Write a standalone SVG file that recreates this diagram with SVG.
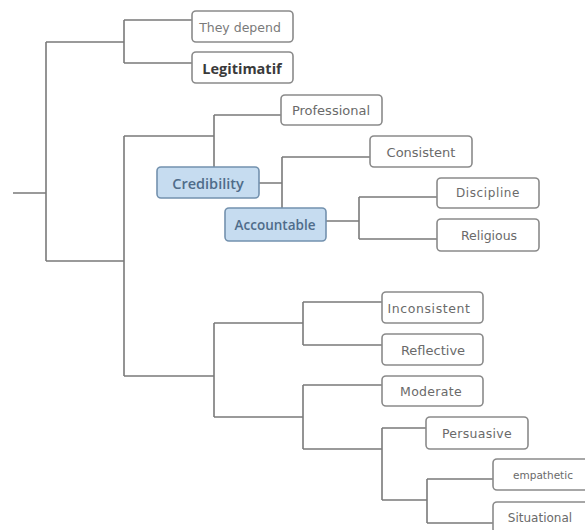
<svg xmlns="http://www.w3.org/2000/svg" width="585" height="530" viewBox="0 0 585 530">
  <style>
    .link { fill: none; stroke: #7a7a7a; stroke-width: 1.6; }
    .box { fill: #ffffff; stroke: #8a8a8a; stroke-width: 1.6; }
    .hl { fill: #c6dcf0; stroke: #7391ae; stroke-width: 1.6; }
    .t { font-family: "DejaVu Sans", "Open Sans", sans-serif; font-size: 12px; fill: #6a6a6a; text-anchor: middle; dominant-baseline: central; }
    .tb { font-family: "Open Sans", "DejaVu Sans", sans-serif; font-size: 14.5px; font-weight: bold; fill: #3a3a3a; text-anchor: middle; dominant-baseline: central; }
    .th { font-family: "Open Sans", "DejaVu Sans", sans-serif; font-size: 14.5px; font-weight: 600; fill: #4f6c8a; text-anchor: middle; dominant-baseline: central; }
  </style>
  <rect width="585" height="530" fill="#ffffff"/>

  <g id="connectors">
    <path class="link" d="M13,193 H46 M46,42 V261"/>
    <path class="link" d="M46,42 H124 M124,20 V63 M124,20 H192 M124,63 H192"/>
    <path class="link" d="M46,261 H124 M124,136 V376"/>
    <path class="link" d="M124,136 H214 M214,115 V167 M214,115 H281"/>
    <path class="link" d="M259,183 H282 M282,157 V208 M282,157 H370"/>
    <path class="link" d="M326,221 H359 M359,197 V239 M359,197 H437 M359,239 H437"/>
    <path class="link" d="M124,376 H214 M214,323 V417"/>
    <path class="link" d="M214,323 H303 M303,302 V345 M303,302 H382 M303,345 H382"/>
    <path class="link" d="M214,417 H303 M303,385 V449 M303,385 H382 M303,449 H382"/>
    <path class="link" d="M382,428 V500 M382,428 H426 M382,500 H427"/>
    <path class="link" d="M427,479 V523 M427,479 H493 M427,523 H493"/>
  </g>

  <g id="they-depend">
    <rect class="box" x="192" y="11" width="101" height="31" rx="4"/>
    <text class="t" x="240" y="27" style="fill:#7a7a7a;font-size:12.5px">They depend</text>
  </g>
  <g id="legitimatif">
    <rect class="box" x="192" y="52" width="101" height="31" rx="4"/>
    <text class="tb" x="242" y="68">Legitimatif</text>
  </g>
  <g id="professional">
    <rect class="box" x="281" y="95" width="101" height="30" rx="4"/>
    <text class="t" x="331" y="110" style="font-size:13px">Professional</text>
  </g>
  <g id="credibility">
    <rect class="hl" x="157" y="167" width="102" height="31" rx="4"/>
    <text class="th" x="208" y="183">Credibility</text>
  </g>
  <g id="consistent">
    <rect class="box" x="370" y="136" width="102" height="31" rx="4"/>
    <text class="t" x="421" y="152" style="font-size:13px">Consistent</text>
  </g>
  <g id="accountable">
    <rect class="hl" x="225" y="208" width="101" height="33" rx="4"/>
    <text class="th" x="275" y="225" style="font-size:13.5px">Accountable</text>
  </g>
  <g id="discipline">
    <rect class="box" x="437" y="178" width="102" height="30" rx="4"/>
    <text class="t" x="488" y="193" style="letter-spacing:0.6px">Discipline</text>
  </g>
  <g id="religious">
    <rect class="box" x="437" y="219" width="102" height="32" rx="4"/>
    <text class="t" x="489" y="235" style="font-size:12.5px">Religious</text>
  </g>
  <g id="inconsistent">
    <rect class="box" x="382" y="292" width="101" height="31" rx="4"/>
    <text class="t" x="429" y="308" style="font-size:12.5px;letter-spacing:0.6px">Inconsistent</text>
  </g>
  <g id="reflective">
    <rect class="box" x="382" y="334" width="101" height="31" rx="4"/>
    <text class="t" x="433" y="350" style="font-size:13px">Reflective</text>
  </g>
  <g id="moderate">
    <rect class="box" x="382" y="376" width="101" height="30" rx="4"/>
    <text class="t" x="431" y="391" style="font-size:12.5px;letter-spacing:0.3px">Moderate</text>
  </g>
  <g id="persuasive">
    <rect class="box" x="426" y="417" width="102" height="32" rx="4"/>
    <text class="t" x="477" y="433" style="font-size:12.5px;letter-spacing:0.3px">Persuasive</text>
  </g>
  <g id="empathetic">
    <rect class="box" x="493" y="459" width="100" height="31" rx="4"/>
    <text class="t" x="543" y="475" style="font-size:10.5px">empathetic</text>
  </g>
  <g id="situational">
    <rect class="box" x="493" y="502" width="100" height="31" rx="4"/>
    <text class="t" x="540" y="518" style="font-size:12px">Situational</text>
  </g>
</svg>
